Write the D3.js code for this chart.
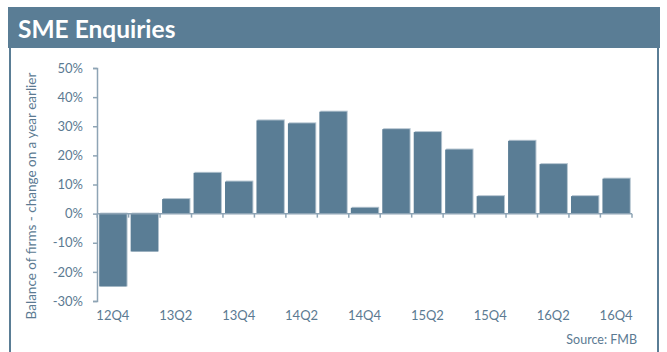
<!DOCTYPE html>
<html>
<head>
<meta charset="utf-8">
<script src="https://cdn.jsdelivr.net/npm/d3@7"></script>
<style>
  html, body { margin: 0; padding: 0; background: #fff; }
  svg { display: block; }
</style>
</head>
<body>
<svg id="chart" width="667" height="352"></svg>
<script>
// Quarterly balance of SME enquiries (% change on a year earlier)
const quarters = ["12Q4","13Q1","13Q2","13Q3","13Q4","14Q1","14Q2","14Q3","14Q4",
                  "15Q1","15Q2","15Q3","15Q4","16Q1","16Q2","16Q3","16Q4"];
const balance = [-25, -13, 5, 14, 11, 32, 31, 35, 2, 29, 28, 22, 6, 25, 17, 6, 12];
const yTicks = [-30, -20, -10, 0, 10, 20, 30, 40, 50];
const shownLabels = ["12Q4","13Q2","13Q4","14Q2","14Q4","15Q2","15Q4","16Q2","16Q4"];

const titleText = "SME Enquiries";
const yAxisTitle = "Balance of firms - change on a year earlier";
const sourceText = "Source: FMB";

const blue = "#5a7d95";
const axisCol = "#8ea4b5";
const textCol = "#5b7a92";
const font = "'Lato', 'Open Sans', sans-serif";

const svg = d3.select("#chart");

// Panel frame and title banner
svg.append("rect").attr("x", 10).attr("y", 40).attr("width", 648).attr("height", 320)
  .attr("fill", "#fff").attr("stroke", blue).attr("stroke-width", 2);
svg.append("rect").attr("x", 8).attr("y", 7).attr("width", 652).attr("height", 41)
  .attr("fill", blue);
svg.append("text").attr("x", 18).attr("y", 38)
  .attr("fill", "#fff").attr("font-family", font).attr("font-weight", "bold")
  .attr("font-size", 24.5).text(titleText);

// Scales
const x = d3.scaleBand().domain(quarters).range([97, 632]).paddingInner(0.13).paddingOuter(0.07);
const y = d3.scaleLinear().domain([-30, 50]).range([301, 68]);

// Bars with a light edge on the top/right
const g = svg.append("g");
g.selectAll("rect.edge").data(quarters).join("rect")
  .attr("class", "edge")
  .attr("x", d => x(d) + 1)
  .attr("y", (d, i) => Math.min(y(balance[i]), y(0)) - 1)
  .attr("width", x.bandwidth())
  .attr("height", (d, i) => Math.abs(y(balance[i]) - y(0)) + 1)
  .attr("fill", "#b3c3cf");
g.selectAll("rect.bar").data(quarters).join("rect")
  .attr("class", "bar")
  .attr("x", d => x(d))
  .attr("y", (d, i) => Math.min(y(balance[i]), y(0)))
  .attr("width", x.bandwidth())
  .attr("height", (d, i) => Math.abs(y(balance[i]) - y(0)))
  .attr("fill", blue);

// Y axis
const yAxis = svg.append("g").attr("transform", "translate(97,0)")
  .call(d3.axisLeft(y).tickValues(yTicks).tickSize(4).tickPadding(10)
    .tickFormat(d => d + "%"));
yAxis.select(".domain").attr("stroke", axisCol).attr("stroke-width", 1.5);
yAxis.selectAll(".tick line").attr("stroke", axisCol).attr("stroke-width", 1.5);
yAxis.selectAll(".tick text").attr("fill", textCol).attr("font-family", font)
  .attr("font-size", 13);

// X axis along zero, tick marks at the band boundaries
const step = x.step();
const boundaries = quarters.map(q => x(q) - (step - x.bandwidth()) / 2).concat([632]);
const zeroY = y(0);
svg.append("line").attr("x1", 97).attr("x2", 632).attr("y1", zeroY).attr("y2", zeroY)
  .attr("stroke", axisCol).attr("stroke-width", 1.5);
svg.append("g").selectAll("line").data(boundaries).join("line")
  .attr("x1", d => d).attr("x2", d => d)
  .attr("y1", zeroY).attr("y2", zeroY + 4)
  .attr("stroke", axisCol).attr("stroke-width", 1.5);

// Category labels along the bottom
svg.append("g").selectAll("text").data(shownLabels).join("text")
  .attr("x", d => x(d) + x.bandwidth() / 2)
  .attr("y", 320)
  .attr("text-anchor", "middle")
  .attr("fill", textCol).attr("font-family", font).attr("font-size", 13)
  .text(d => d);

// Axis title
svg.append("text")
  .attr("transform", "translate(36,196) rotate(-90)")
  .attr("text-anchor", "middle")
  .attr("fill", textCol).attr("font-family", font).attr("font-size", 13.5)
  .text(yAxisTitle);

// Source note
svg.append("text").attr("x", 637).attr("y", 344).attr("text-anchor", "end")
  .attr("fill", textCol).attr("font-family", font).attr("font-size", 12.5)
  .text(sourceText);
</script>
</body>
</html>
